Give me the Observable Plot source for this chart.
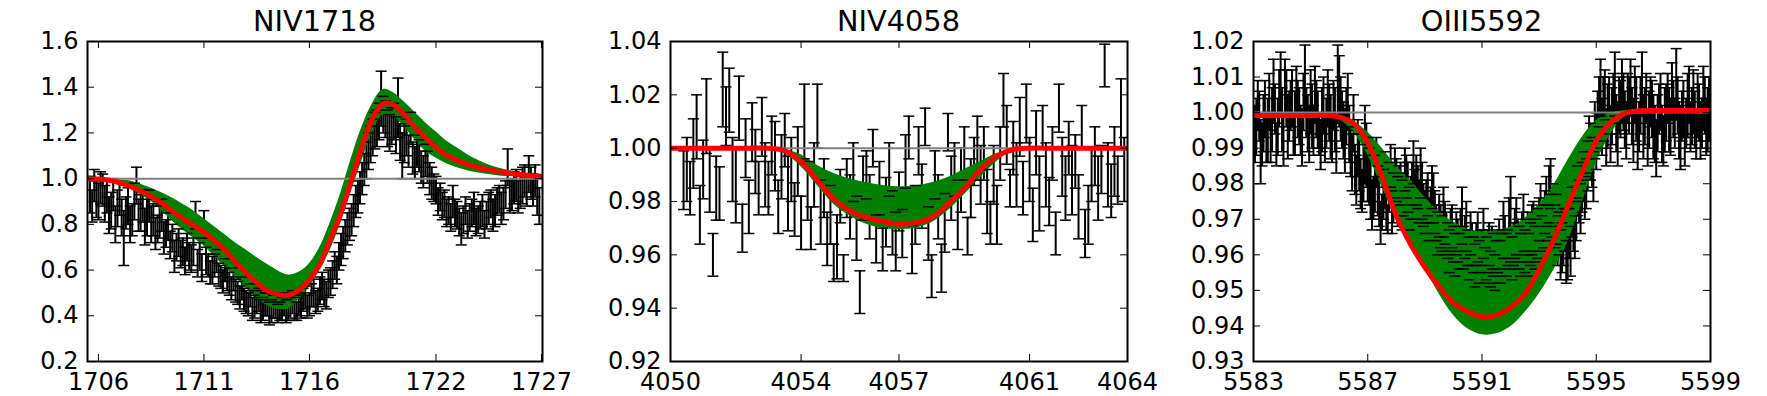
<!DOCTYPE html>
<html><head><meta charset="utf-8">
<script src="https://cdn.jsdelivr.net/npm/d3@7"></script>
<script src="https://cdn.jsdelivr.net/npm/@observablehq/plot@0.6"></script>
<style>
body{margin:0;background:#fff;}
#root{position:relative;width:1767px;height:396px;overflow:hidden;background:#fff;font-family:"DejaVu Sans",sans-serif;}
.title{position:absolute;top:7px;font-size:28.8px;line-height:28.8px;white-space:nowrap;transform:translateX(-50%);color:#000;}
</style></head><body><div id="root"></div>
<script>
// ---------- NIV1718 ----------
const n1718Wave = [1705.6,1705.7,1705.8,1705.9,1706,1706.1,1706.2,1706.3,1706.4,1706.5,
1706.6,1706.7,1706.8,1706.9,1707,1707.1,1707.2,1707.3,1707.4,1707.5,
1707.6,1707.7,1707.8,1707.9,1708,1708.1,1708.2,1708.3,1708.4,1708.5,
1708.6,1708.7,1708.8,1708.9,1709,1709.1,1709.2,1709.3,1709.4,1709.5,
1709.6,1709.7,1709.8,1709.9,1710,1710.1,1710.2,1710.3,1710.4,1710.5,
1710.6,1710.7,1710.8,1710.9,1711,1711.1,1711.2,1711.3,1711.4,1711.5,
1711.6,1711.7,1711.8,1711.9,1712,1712.1,1712.2,1712.3,1712.4,1712.5,
1712.6,1712.7,1712.8,1712.9,1713,1713.1,1713.2,1713.3,1713.4,1713.5,
1713.6,1713.7,1713.8,1713.9,1714,1714.1,1714.2,1714.3,1714.4,1714.5,
1714.6,1714.7,1714.8,1714.9,1715,1715.1,1715.2,1715.3,1715.4,1715.5,
1715.6,1715.7,1715.8,1715.9,1716,1716.1,1716.2,1716.3,1716.4,1716.5,
1716.6,1716.7,1716.8,1716.9,1717,1717.1,1717.2,1717.3,1717.4,1717.5,
1717.6,1717.7,1717.8,1717.9,1718,1718.1,1718.2,1718.3,1718.4,1718.5,
1718.6,1718.7,1718.8,1718.9,1719,1719.1,1719.2,1719.3,1719.4,1719.5,
1719.6,1719.7,1719.8,1719.9,1720,1720.1,1720.2,1720.3,1720.4,1720.5,
1720.6,1720.7,1720.8,1720.9,1721,1721.1,1721.2,1721.3,1721.4,1721.5,
1721.6,1721.7,1721.8,1721.9,1722,1722.1,1722.2,1722.3,1722.4,1722.5,
1722.6,1722.7,1722.8,1722.9,1723,1723.1,1723.2,1723.3,1723.4,1723.5,
1723.6,1723.7,1723.8,1723.9,1724,1724.1,1724.2,1724.3,1724.4,1724.5,
1724.6,1724.7,1724.8,1724.9,1725,1725.1,1725.2,1725.3,1725.4,1725.5,
1725.6,1725.7,1725.8,1725.9,1726,1726.1,1726.2,1726.3,1726.4,1726.5,
1726.6,1726.7,1726.8,1726.9];
const n1718Flux = [0.93,0.88,0.97,0.91,0.90,0.96,0.95,0.89,0.92,0.84,
0.86,0.93,0.80,0.87,0.91,0.83,0.74,0.85,0.88,0.80,
0.82,0.90,0.97,0.84,0.85,0.88,0.79,0.83,0.88,0.80,
0.82,0.76,0.78,0.81,0.84,0.74,0.76,0.79,0.71,0.74,
0.66,0.70,0.72,0.67,0.68,0.64,0.70,0.66,0.65,0.68,
0.84,0.63,0.66,0.61,0.80,0.64,0.62,0.59,0.60,0.62,
0.64,0.58,0.57,0.55,0.60,0.56,0.54,0.52,0.56,0.51,
0.50,0.48,0.52,0.47,0.46,0.45,0.49,0.43,0.44,0.46,
0.47,0.42,0.43,0.45,0.45,0.41,0.42,0.44,0.44,0.41,
0.42,0.43,0.45,0.42,0.43,0.44,0.46,0.43,0.42,0.45,
0.44,0.47,0.48,0.44,0.45,0.49,0.50,0.46,0.47,0.51,
0.53,0.50,0.49,0.54,0.55,0.58,0.62,0.60,0.66,0.69,
0.72,0.75,0.78,0.80,0.82,0.86,0.90,0.92,0.96,1.00,
1.04,1.08,1.12,1.15,1.18,1.21,1.22,1.25,1.35,1.28,
1.26,1.22,1.20,1.23,1.25,1.19,1.31,1.16,1.10,1.15,
1.18,1.12,1.22,1.09,1.07,1.12,1.10,1.05,1.03,1.08,
1.05,1.00,0.98,0.96,0.95,0.90,0.92,0.88,0.89,0.85,
0.86,0.83,0.90,0.85,0.84,0.81,0.78,0.82,0.86,0.80,
0.83,0.85,0.87,0.81,0.82,0.84,0.86,0.80,0.84,0.87,
0.89,0.84,0.86,0.90,0.91,0.87,0.89,0.93,1.05,0.92,
0.93,0.96,0.97,0.92,0.94,0.97,0.99,0.95,1.02,0.98,
0.95,0.99,0.92,0.88];
const n1718Err = [0.08,0.07,0.07,0.08,0.08,0.07,0.07,0.08,0.07,0.08,
0.08,0.07,0.08,0.08,0.07,0.08,0.12,0.07,0.08,0.08,
0.07,0.08,0.08,0.07,0.08,0.07,0.08,0.08,0.07,0.08,
0.07,0.07,0.06,0.07,0.07,0.07,0.06,0.06,0.06,0.06,
0.07,0.06,0.06,0.06,0.06,0.06,0.06,0.06,0.06,0.06,
0.06,0.06,0.06,0.06,0.06,0.06,0.05,0.05,0.06,0.05,
0.05,0.05,0.05,0.05,0.05,0.05,0.05,0.05,0.05,0.05,
0.05,0.05,0.05,0.05,0.05,0.05,0.05,0.05,0.05,0.05,
0.05,0.05,0.05,0.05,0.05,0.05,0.05,0.05,0.05,0.04,
0.04,0.05,0.05,0.05,0.05,0.05,0.05,0.05,0.04,0.05,
0.05,0.05,0.05,0.05,0.05,0.05,0.06,0.05,0.05,0.06,
0.06,0.06,0.06,0.06,0.06,0.06,0.06,0.06,0.06,0.07,
0.07,0.07,0.07,0.07,0.07,0.07,0.07,0.07,0.07,0.07,
0.07,0.08,0.08,0.08,0.08,0.08,0.08,0.08,0.12,0.08,
0.08,0.08,0.08,0.08,0.08,0.08,0.13,0.08,0.10,0.08,
0.08,0.07,0.07,0.07,0.07,0.07,0.07,0.07,0.07,0.07,
0.07,0.07,0.07,0.06,0.06,0.06,0.06,0.06,0.06,0.06,
0.06,0.06,0.07,0.06,0.06,0.06,0.07,0.06,0.06,0.06,
0.06,0.06,0.07,0.06,0.06,0.06,0.07,0.06,0.06,0.07,
0.06,0.07,0.07,0.06,0.06,0.07,0.07,0.06,0.08,0.07,
0.07,0.07,0.07,0.07,0.07,0.08,0.07,0.07,0.08,0.07,
0.07,0.07,0.08,0.08];
const n1718ModelWave = [1705.5,1706,1706.5,1707,1707.5,1708,1708.5,1709,1709.5,1710,1710.5,1711,1711.5,1712,1712.5,1713,1713.5,1714,1714.5,1715,1715.5,1716,1716.5,1717,1717.5,1718,1718.5,1719,1719.5,1720,1720.5,1721,1721.5,1722,1722.5,1723,1723.5,1724,1724.5,1725,1725.5,1726,1726.5,1727];
const n1718Best = [1.000,0.998,0.993,0.982,0.966,0.946,0.922,0.893,0.858,0.825,0.795,0.765,0.728,0.688,0.635,0.588,0.545,0.510,0.493,0.490,0.512,0.557,0.625,0.735,0.850,0.995,1.142,1.265,1.328,1.322,1.280,1.225,1.180,1.137,1.103,1.080,1.062,1.049,1.040,1.031,1.024,1.018,1.013,1.010];
const n1718High = [1.000,1.000,0.998,0.995,0.990,0.975,0.958,0.938,0.915,0.888,0.860,0.825,0.790,0.755,0.718,0.688,0.655,0.625,0.597,0.578,0.590,0.628,0.700,0.810,0.940,1.092,1.228,1.330,1.390,1.375,1.335,1.290,1.245,1.205,1.165,1.135,1.105,1.080,1.060,1.045,1.035,1.026,1.020,1.015];
const n1718Low = [1.000,0.997,0.990,0.975,0.955,0.930,0.900,0.860,0.815,0.775,0.740,0.705,0.660,0.612,0.568,0.520,0.478,0.445,0.428,0.430,0.470,0.525,0.600,0.690,0.810,0.948,1.080,1.205,1.280,1.270,1.225,1.170,1.120,1.090,1.065,1.048,1.035,1.025,1.018,1.012,1.009,1.006,1.005,1.005];
const n1718XTicks = [1706,1711,1716,1722,1727];
const n1718YTicks = [0.2,0.4,0.6,0.8,1.0,1.2,1.4,1.6];

// ---------- NIV4058 ----------
const n4058Wave = [4050.4,4050.5,4050.6,4050.7,4050.8,4050.9,4051,4051.1,4051.2,4051.3,4051.4,4051.5,4051.6,4051.7,4051.8,4051.9,4052,4052.1,4052.2,4052.3,4052.4,4052.5,4052.6,4052.7,4052.8,4052.9,4053,4053.1,4053.2,4053.3,4053.4,4053.5,4053.6,4053.7,4053.8,4053.9,4054,4054.1,4054.2,4054.3,4054.4,4054.5,4054.6,4054.7,4054.8,4054.9,4055,4055.1,4055.2,4055.3,4055.4,4055.5,4055.6,4055.7,4055.8,4055.9,4056,4056.1,4056.2,4056.3,4056.4,4056.5,4056.6,4056.7,4056.8,4056.9,4057,4057.1,4057.2,4057.3,4057.4,4057.5,4057.6,4057.7,4057.8,4057.9,4058,4058.1,4058.2,4058.3,4058.4,4058.5,4058.6,4058.7,4058.8,4058.9,4059,4059.1,4059.2,4059.3,4059.4,4059.5,4059.6,4059.7,4059.8,4059.9,4060,4060.1,4060.2,4060.3,4060.4,4060.5,4060.6,4060.7,4060.8,4060.9,4061,4061.1,4061.2,4061.3,4061.4,4061.5,4061.6,4061.7,4061.8,4061.9,4062,4062.1,4062.2,4062.3,4062.4,4062.5,4062.6,4062.7,4062.8,4062.9,4063,4063.1,4063.2,4063.3,4063.4,4063.5,4063.6,4063.7,4063.8,4063.9];
const n4058Flux = [0.988,0.992,0.985,0.998,1.008,0.975,0.992,1.012,0.988,0.960,
0.985,0.983,1.022,1.012,1.018,0.992,0.986,1.015,0.970,1.000,
0.978,1.006,0.995,0.985,1.008,0.990,0.985,1.001,0.997,0.978,
0.993,1.003,0.983,0.992,0.977,0.995,0.972,1.010,0.984,0.970,
0.990,1.012,0.976,0.985,0.966,0.975,0.957,0.963,0.982,0.955,
0.985,0.978,0.991,0.970,0.946,0.985,0.990,0.978,1.000,0.966,
0.985,0.962,0.976,0.992,0.972,0.965,0.980,0.968,0.995,1.004,
0.962,0.975,0.999,0.982,1.008,0.968,0.952,0.990,0.978,0.955,
0.972,1.006,0.985,0.992,0.975,0.988,0.998,0.967,0.985,0.995,
1.000,0.990,0.998,0.980,0.972,0.990,0.975,0.998,1.018,1.005,
0.985,1.000,0.990,1.008,0.985,1.013,0.992,0.975,1.002,0.983,
1.008,0.990,0.980,0.998,0.968,1.015,0.993,0.985,1.000,0.988,
0.995,0.978,1.008,0.968,0.975,0.990,0.997,0.985,0.992,1.031,
0.990,0.984,0.995,0.988,1.013,0.992];
const n4058Err = [0.011,0.012,0.010,0.013,0.012,0.011,0.011,0.014,0.012,0.008,
0.012,0.010,0.014,0.011,0.012,0.012,0.014,0.012,0.009,0.011,
0.010,0.011,0.012,0.010,0.011,0.012,0.010,0.011,0.013,0.010,
0.012,0.010,0.014,0.012,0.010,0.013,0.010,0.014,0.011,0.008,
0.012,0.012,0.012,0.011,0.010,0.011,0.007,0.012,0.010,0.005,
0.011,0.012,0.011,0.012,0.008,0.012,0.009,0.012,0.007,0.009,
0.010,0.008,0.013,0.010,0.012,0.011,0.011,0.009,0.010,0.008,
0.009,0.011,0.009,0.012,0.007,0.010,0.008,0.009,0.012,0.009,
0.011,0.007,0.012,0.010,0.013,0.012,0.010,0.007,0.011,0.009,
0.012,0.011,0.010,0.012,0.008,0.011,0.011,0.010,0.010,0.011,
0.007,0.010,0.012,0.011,0.010,0.011,0.012,0.010,0.012,0.014,
0.008,0.012,0.009,0.010,0.008,0.009,0.011,0.012,0.010,0.013,
0.010,0.012,0.008,0.009,0.011,0.010,0.011,0.012,0.009,0.008,
0.012,0.010,0.013,0.009,0.013,0.012];
const n4058ModelWave = [4050,4050.5,4051,4051.5,4052,4052.5,4053,4053.5,4054,4054.5,4055,4055.5,4056,4056.5,4057,4057.5,4058,4058.5,4059,4059.5,4060,4060.5,4061,4061.5,4062,4062.5,4063,4063.5,4064];
const n4058Best = [1,1,1,1,1,1,1,0.999,0.995,0.988,0.981,0.9765,0.974,0.9725,0.9715,0.972,0.974,0.979,0.985,0.992,0.997,0.9995,1,1,1,1,1,1,1];
const n4058High = [1,1,1,1,1,1,1,0.9995,0.9975,0.9935,0.9905,0.9885,0.987,0.986,0.9855,0.9858,0.987,0.989,0.992,0.995,0.998,0.9995,1,1,1,1,1,1,1];
const n4058Low = [1,1,1,1,1,1,0.9995,0.998,0.993,0.986,0.979,0.9745,0.9715,0.970,0.9695,0.970,0.972,0.9765,0.9825,0.989,0.995,0.999,1,1,1,1,1,1,1];
const n4058XTicks = [4050,4054,4057,4061,4064];
const n4058YTicks = [0.92,0.94,0.96,0.98,1.00,1.02,1.04];

// ---------- OIII5592 ----------
const o5592Wave = [5583.05,5583.1,5583.15,5583.2,5583.25,5583.3,5583.35,5583.4,5583.45,5583.5,
5583.55,5583.6,5583.65,5583.7,5583.75,5583.8,5583.85,5583.9,5583.95,5584,
5584.05,5584.1,5584.15,5584.2,5584.25,5584.3,5584.35,5584.4,5584.45,5584.5,
5584.55,5584.6,5584.65,5584.7,5584.75,5584.8,5584.85,5584.9,5584.95,5585,
5585.05,5585.1,5585.15,5585.2,5585.25,5585.3,5585.35,5585.4,5585.45,5585.5,
5585.55,5585.6,5585.65,5585.7,5585.75,5585.8,5585.85,5585.9,5585.95,5586,
5586.05,5586.1,5586.15,5586.2,5586.25,5586.3,5586.35,5586.4,5586.45,5586.5,
5586.55,5586.6,5586.65,5586.7,5586.75,5586.8,5586.85,5586.9,5586.95,5587,
5587.05,5587.1,5587.15,5587.2,5587.25,5587.3,5587.35,5587.4,5587.45,5587.5,
5587.55,5587.6,5587.65,5587.7,5587.75,5587.8,5587.85,5587.9,5587.95,5588,
5588.05,5588.1,5588.15,5588.2,5588.25,5588.3,5588.35,5588.4,5588.45,5588.5,
5588.55,5588.6,5588.65,5588.7,5588.75,5588.8,5588.85,5588.9,5588.95,5589,
5589.05,5589.1,5589.15,5589.2,5589.25,5589.3,5589.35,5589.4,5589.45,5589.5,
5589.55,5589.6,5589.65,5589.7,5589.75,5589.8,5589.85,5589.9,5589.95,5590,
5590.05,5590.1,5590.15,5590.2,5590.25,5590.3,5590.35,5590.4,5590.45,5590.5,
5590.55,5590.6,5590.65,5590.7,5590.75,5590.8,5590.85,5590.9,5590.95,5591,
5591.05,5591.1,5591.15,5591.2,5591.25,5591.3,5591.35,5591.4,5591.45,5591.5,
5591.55,5591.6,5591.65,5591.7,5591.75,5591.8,5591.85,5591.9,5591.95,5592,
5592.05,5592.1,5592.15,5592.2,5592.25,5592.3,5592.35,5592.4,5592.45,5592.5,
5592.55,5592.6,5592.65,5592.7,5592.75,5592.8,5592.85,5592.9,5592.95,5593,
5593.05,5593.1,5593.15,5593.2,5593.25,5593.3,5593.35,5593.4,5593.45,5593.5,
5593.55,5593.6,5593.65,5593.7,5593.75,5593.8,5593.85,5593.9,5593.95,5594,
5594.05,5594.1,5594.15,5594.2,5594.25,5594.3,5594.35,5594.4,5594.45,5594.5,
5594.55,5594.6,5594.65,5594.7,5594.75,5594.8,5594.85,5594.9,5594.95,5595,
5595.05,5595.1,5595.15,5595.2,5595.25,5595.3,5595.35,5595.4,5595.45,5595.5,
5595.55,5595.6,5595.65,5595.7,5595.75,5595.8,5595.85,5595.9,5595.95,5596,
5596.05,5596.1,5596.15,5596.2,5596.25,5596.3,5596.35,5596.4,5596.45,5596.5,
5596.55,5596.6,5596.65,5596.7,5596.75,5596.8,5596.85,5596.9,5596.95,5597,
5597.05,5597.1,5597.15,5597.2,5597.25,5597.3,5597.35,5597.4,5597.45,5597.5,
5597.55,5597.6,5597.65,5597.7,5597.75,5597.8,5597.85,5597.9,5597.95,5598,
5598.05,5598.1,5598.15,5598.2,5598.25,5598.3,5598.35,5598.4,5598.45,5598.5,
5598.55,5598.6,5598.65,5598.7,5598.75,5598.8,5598.85,5598.9,5598.95];
const o5592Flux = [0.994,0.996,1.002,0.999,0.989,0.991,0.997,1.001,0.993,0.995,
1.003,0.993,0.998,1.006,1.001,0.991,0.996,1.004,1.008,0.998,
0.992,1.007,1.004,0.996,0.999,1.002,1.004,0.994,0.997,1.006,
1.001,0.999,0.995,0.993,1.003,1.009,1.000,0.997,0.994,1.003,
0.999,0.995,1.005,1.001,0.998,0.994,0.991,0.998,1.002,0.993,
0.997,1.004,1.000,0.996,0.993,1.002,0.998,0.991,1.008,1.006,
1.001,0.998,0.995,0.992,0.999,1.003,0.994,0.989,0.986,0.997,
0.984,0.981,0.990,0.986,0.980,0.978,0.983,0.991,0.988,0.984,
0.982,0.979,0.974,0.976,0.980,0.986,0.978,0.975,0.969,0.972,
0.977,0.981,0.973,0.970,0.979,0.985,0.972,0.976,0.983,0.981,
0.975,0.978,0.980,0.974,0.977,0.984,0.982,0.979,0.973,0.976,
0.980,0.986,0.977,0.981,0.979,0.975,0.983,0.978,0.974,0.972,
0.975,0.977,0.970,0.974,0.979,0.976,0.972,0.969,0.966,0.971,
0.968,0.966,0.972,0.969,0.966,0.964,0.961,0.967,0.968,0.963,
0.960,0.966,0.964,0.961,0.967,0.971,0.962,0.965,0.968,0.962,
0.959,0.966,0.963,0.960,0.957,0.963,0.965,0.958,0.961,0.962,
0.966,0.957,0.959,0.961,0.963,0.956,0.962,0.960,0.955,0.958,
0.961,0.963,0.958,0.960,0.967,0.965,0.960,0.962,0.966,0.970,
0.959,0.963,0.966,0.968,0.964,0.962,0.960,0.965,0.969,0.961,
0.964,0.966,0.960,0.963,0.967,0.968,0.962,0.964,0.966,0.970,
0.972,0.966,0.968,0.972,0.975,0.969,0.977,0.980,0.971,0.974,
0.968,0.970,0.964,0.966,0.960,0.962,0.965,0.967,0.958,0.963,
0.966,0.961,0.972,0.968,0.965,0.970,0.978,0.975,0.973,0.979,
0.982,0.976,0.980,0.985,0.991,0.989,0.986,0.982,0.995,0.992,
0.998,1.003,1.007,0.996,1.001,1.005,0.993,0.999,1.002,0.994,
0.999,1.004,1.008,0.997,0.994,1.002,1.001,1.006,1.003,0.998,
0.995,1.004,1.002,1.007,0.999,0.995,1.005,1.001,0.992,0.996,
1.002,1.008,0.996,0.999,1.004,0.993,0.998,1.003,1.001,0.996,
0.994,0.990,0.997,1.001,1.003,0.994,0.992,0.998,1.000,1.004,
0.998,0.996,1.006,1.001,0.997,1.008,1.002,0.995,0.993,0.999,
1.001,0.993,0.997,1.002,1.005,0.996,0.999,1.003,0.998,0.994,
1.002,1.000,0.995,0.997,1.004,1.002,0.996,0.998,1.001];
const o5592Err = [0.008,0.008,0.007,0.007,0.009,0.006,0.008,0.008,0.007,0.009,
0.008,0.007,0.009,0.009,0.007,0.006,0.008,0.008,0.009,0.009,
0.007,0.008,0.008,0.009,0.007,0.007,0.008,0.006,0.009,0.007,
0.008,0.008,0.007,0.008,0.008,0.010,0.007,0.008,0.008,0.009,
0.009,0.007,0.008,0.008,0.008,0.006,0.007,0.009,0.008,0.007,
0.007,0.008,0.008,0.009,0.007,0.007,0.009,0.008,0.011,0.010,
0.009,0.008,0.008,0.009,0.008,0.008,0.008,0.007,0.008,0.008,
0.007,0.007,0.008,0.008,0.007,0.006,0.008,0.011,0.009,0.009,
0.008,0.009,0.007,0.006,0.008,0.007,0.007,0.007,0.006,0.005,
0.007,0.008,0.006,0.004,0.007,0.006,0.006,0.007,0.007,0.006,
0.007,0.007,0.006,0.007,0.006,0.006,0.006,0.007,0.006,0.006,
0.006,0.006,0.007,0.007,0.006,0.006,0.007,0.008,0.006,0.006,
0.006,0.006,0.006,0.005,0.006,0.007,0.006,0.005,0.006,0.006,
0.006,0.005,0.007,0.006,0.006,0.005,0.006,0.006,0.006,0.005,
0.006,0.006,0.006,0.005,0.006,0.008,0.006,0.006,0.007,0.005,
0.006,0.006,0.006,0.005,0.006,0.006,0.007,0.006,0.006,0.005,
0.007,0.005,0.006,0.006,0.006,0.005,0.006,0.006,0.005,0.006,
0.006,0.007,0.006,0.006,0.008,0.006,0.006,0.005,0.010,0.012,
0.006,0.006,0.007,0.008,0.006,0.006,0.006,0.007,0.008,0.006,
0.006,0.006,0.006,0.006,0.007,0.007,0.006,0.006,0.007,0.006,
0.008,0.005,0.006,0.006,0.007,0.005,0.008,0.007,0.006,0.006,
0.006,0.007,0.007,0.006,0.007,0.007,0.008,0.006,0.006,0.010,
0.007,0.007,0.007,0.007,0.006,0.006,0.007,0.006,0.007,0.007,
0.007,0.006,0.007,0.007,0.008,0.008,0.007,0.007,0.008,0.008,
0.008,0.007,0.008,0.008,0.009,0.007,0.008,0.009,0.008,0.008,
0.008,0.007,0.009,0.008,0.009,0.008,0.008,0.009,0.008,0.008,
0.008,0.007,0.008,0.008,0.008,0.009,0.008,0.009,0.008,0.007,
0.008,0.009,0.009,0.008,0.007,0.008,0.008,0.007,0.008,0.009,
0.008,0.008,0.008,0.007,0.008,0.008,0.007,0.009,0.008,0.007,
0.009,0.008,0.008,0.008,0.007,0.010,0.008,0.008,0.009,0.007,
0.008,0.008,0.007,0.009,0.008,0.007,0.008,0.009,0.008,0.007,
0.009,0.008,0.008,0.007,0.009,0.008,0.008,0.009,0.009];
const o5592ModelWave = [5583,5583.5,5584,5584.5,5585,5585.5,5586,5586.5,5587,5587.5,5588,5588.5,5589,5589.5,5590,5590.5,5591,5591.5,5592,5592.5,5593,5593.5,5594,5594.5,5595,5595.5,5596,5596.5,5597,5597.5,5598,5598.5,5599];
const o5592Best = [0.9992,0.9992,0.9992,0.9992,0.9992,0.9992,0.9988,0.9970,0.9915,0.9820,0.9710,0.9630,0.9565,0.9510,0.9465,0.9440,0.9426,0.9430,0.9452,0.9490,0.9558,0.9640,0.9735,0.9830,0.9920,0.9972,0.9998,1.0005,1.0006,1.0006,1.0006,1.0006,1.0006];
const o5592High = [0.9996,0.9996,0.9996,0.9996,0.9996,0.9996,0.9992,0.9975,0.9945,0.9900,0.9850,0.9810,0.9762,0.9722,0.9692,0.9673,0.9665,0.9667,0.9678,0.9703,0.9742,0.9795,0.9865,0.9930,0.9978,0.9998,1.0006,1.0008,1.0008,1.0008,1.0008,1.0008,1.0008];
const o5592Low = [0.9988,0.9988,0.9988,0.9988,0.9988,0.9988,0.9980,0.9945,0.9880,0.9790,0.9700,0.9625,0.9560,0.9490,0.9430,0.9392,0.9375,0.9378,0.9398,0.9438,0.9490,0.9555,0.9635,0.9745,0.9858,0.9938,0.9988,1.0000,1.0002,1.0002,1.0002,1.0002,1.0002];
const o5592XTicks = [5583,5587,5591,5595,5599];
const o5592YTicks = [0.93,0.94,0.95,0.96,0.97,0.98,0.99,1.00,1.01,1.02];

// ---------- drawing ----------
const root = document.getElementById("root");
const capSymbol = {draw(ctx, size) { const h = Math.sqrt(size / Math.PI); ctx.moveTo(-h, 0); ctx.lineTo(h, 0); }};

function makePanel(c) {
  const innerW = c.frameW, innerH = 320;
  const pts = c.wave.map((x, i) => ({x, y1: c.flux[i] - c.err[i], y2: c.flux[i] + c.err[i]}));
  const model = c.mWave.map((x, i) => ({x, best: c.best[i], lo: c.lo[i], hi: c.hi[i]}));
  const svg = Plot.plot({
    width: c.marginLeft + innerW + c.marginRight,
    height: 396,
    marginTop: 41, marginBottom: 35, marginLeft: c.marginLeft, marginRight: c.marginRight,
    x: {domain: c.xDomain, axis: null},
    y: {domain: c.yDomain, axis: null},
    style: {fontFamily: "'DejaVu Sans', sans-serif", fontSize: "24px", background: "none", overflow: "visible", color: "black"},
    marks: [
      Plot.ruleX(pts, {x: "x", y1: "y1", y2: "y2", stroke: "black", strokeWidth: 2, clip: true}),
      Plot.areaY(model, {x: "x", y1: "lo", y2: "hi", fill: "#008000", curve: "catmull-rom", clip: true}),
      Plot.dot(pts, {x: "x", y: "y1", symbol: capSymbol, r: 5.5, fill: "none", stroke: "black", strokeWidth: 1.5, clip: true}),
      Plot.dot(pts, {x: "x", y: "y2", symbol: capSymbol, r: 5.5, fill: "none", stroke: "black", strokeWidth: 1.5, clip: true}),
      Plot.ruleY([1], {stroke: "#808080", strokeWidth: 2}),
      Plot.line(model, {x: "x", y: "best", stroke: "#ff0000", strokeWidth: 5, curve: "catmull-rom", clip: true}),
      Plot.ruleX(c.xTicks, {insetTop: innerH - 7, stroke: "black", strokeWidth: 1}),
      Plot.ruleX(c.xTicks, {insetBottom: innerH - 7, stroke: "black", strokeWidth: 1}),
      Plot.ruleY(c.yTicks, {insetLeft: innerW - 7, stroke: "black", strokeWidth: 1}),
      Plot.ruleY(c.yTicks, {insetRight: innerW - 7, stroke: "black", strokeWidth: 1}),
      Plot.axisX({ticks: c.xTicks, anchor: "bottom", tickSize: 0, tickPadding: 11, tickFormat: d => String(d), fontSize: 24, label: null}),
      Plot.axisY({ticks: c.yTicks, anchor: "left", tickSize: 0, tickPadding: 9, tickFormat: d3.format(c.yFmt), fontSize: 24, label: null}),
      Plot.frame({stroke: "black", strokeWidth: 2})
    ]
  });
  svg.style.position = "absolute";
  svg.style.left = c.left + "px";
  svg.style.top = "0px";
  root.append(svg);
  const t = document.createElement("div");
  t.className = "title";
  t.textContent = c.title;
  t.style.left = (c.left + c.marginLeft + innerW / 2) + "px";
  root.append(t);
}

makePanel({title: "NIV1718", left: 0, marginLeft: 87, frameW: 455, marginRight: 35,
  xDomain: [1705.48, 1727.05], yDomain: [0.2, 1.6], xTicks: n1718XTicks, yTicks: n1718YTicks, yFmt: ".1f",
  wave: n1718Wave, flux: n1718Flux, err: n1718Err, mWave: n1718ModelWave, best: n1718Best, lo: n1718Low, hi: n1718High});
makePanel({title: "NIV4058", left: 600, marginLeft: 70, frameW: 457, marginRight: 35,
  xDomain: [4050, 4064], yDomain: [0.92, 1.04], xTicks: n4058XTicks, yTicks: n4058YTicks, yFmt: ".2f",
  wave: n4058Wave, flux: n4058Flux, err: n4058Err, mWave: n4058ModelWave, best: n4058Best, lo: n4058Low, hi: n4058High});
makePanel({title: "OIII5592", left: 1183, marginLeft: 70, frameW: 457, marginRight: 40,
  xDomain: [5583, 5599], yDomain: [0.93, 1.02], xTicks: o5592XTicks, yTicks: o5592YTicks, yFmt: ".2f",
  wave: o5592Wave, flux: o5592Flux, err: o5592Err, mWave: o5592ModelWave, best: o5592Best, lo: o5592Low, hi: o5592High});
</script>
</body></html>
